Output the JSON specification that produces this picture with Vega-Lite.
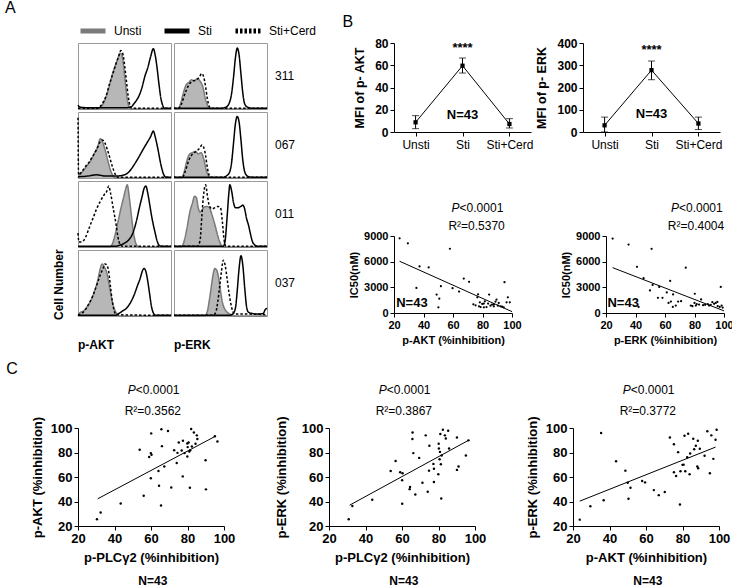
{
"$schema": "https://vega.github.io/schema/vega-lite/v6.json",
"background": "white",
"padding": {"left": 5, "top": 0, "right": 0, "bottom": 1},
"config": {
  "font": "Liberation Sans",
  "view": {"stroke": null},
  "axis": {"grid": false, "domainColor": "black", "tickColor": "black", "labelColor": "black", "titleColor": "black", "labelFont": "Liberation Sans", "titleFont": "Liberation Sans", "labelFontWeight": "bold", "titleFontWeight": "bold", "tickSize": 4, "labelFontSize": 11, "titleFontSize": 11, "labelPadding": 2, "titlePadding": 4, "labelOverlap": false, "labelFlush": false},
  "title": {"font": "Liberation Sans", "fontSize": 16, "fontWeight": "normal", "anchor": "start", "color": "black"},
  "header": {"labelColor": "black", "labelFont": "Liberation Sans", "titleColor": "black", "titleFont": "Liberation Sans"},
  "legend": {"labelColor": "black", "labelFont": "Liberation Sans"},
  "text": {"font": "Liberation Sans", "color": "black"}
},
"datasets": {
  "hist": [
    {"s":"311","m":"p-AKT","c":"Unsti","x":0,"y":0},{"s":"311","m":"p-AKT","c":"Unsti","x":20,"y":0},{"s":"311","m":"p-AKT","c":"Unsti","x":25,"y":4},{"s":"311","m":"p-AKT","c":"Unsti","x":30,"y":18},{"s":"311","m":"p-AKT","c":"Unsti","x":34,"y":38},{"s":"311","m":"p-AKT","c":"Unsti","x":37,"y":55},{"s":"311","m":"p-AKT","c":"Unsti","x":40,"y":68},{"s":"311","m":"p-AKT","c":"Unsti","x":43,"y":80},{"s":"311","m":"p-AKT","c":"Unsti","x":45,"y":88},{"s":"311","m":"p-AKT","c":"Unsti","x":47,"y":86},{"s":"311","m":"p-AKT","c":"Unsti","x":49,"y":68},{"s":"311","m":"p-AKT","c":"Unsti","x":51,"y":40},{"s":"311","m":"p-AKT","c":"Unsti","x":53,"y":15},{"s":"311","m":"p-AKT","c":"Unsti","x":55,"y":3},{"s":"311","m":"p-AKT","c":"Unsti","x":57,"y":0},{"s":"311","m":"p-AKT","c":"Unsti","x":100,"y":0},
    {"s":"311","m":"p-AKT","c":"Sti+Cerd","x":0,"y":1},{"s":"311","m":"p-AKT","c":"Sti+Cerd","x":20,"y":1},{"s":"311","m":"p-AKT","c":"Sti+Cerd","x":25,"y":6},{"s":"311","m":"p-AKT","c":"Sti+Cerd","x":30,"y":20},{"s":"311","m":"p-AKT","c":"Sti+Cerd","x":34,"y":40},{"s":"311","m":"p-AKT","c":"Sti+Cerd","x":38,"y":58},{"s":"311","m":"p-AKT","c":"Sti+Cerd","x":41,"y":72},{"s":"311","m":"p-AKT","c":"Sti+Cerd","x":44,"y":84},{"s":"311","m":"p-AKT","c":"Sti+Cerd","x":46,"y":92},{"s":"311","m":"p-AKT","c":"Sti+Cerd","x":48,"y":88},{"s":"311","m":"p-AKT","c":"Sti+Cerd","x":50,"y":70},{"s":"311","m":"p-AKT","c":"Sti+Cerd","x":52,"y":45},{"s":"311","m":"p-AKT","c":"Sti+Cerd","x":54,"y":20},{"s":"311","m":"p-AKT","c":"Sti+Cerd","x":56,"y":5},{"s":"311","m":"p-AKT","c":"Sti+Cerd","x":58,"y":1},{"s":"311","m":"p-AKT","c":"Sti+Cerd","x":100,"y":1},
    {"s":"311","m":"p-AKT","c":"Sti","x":0,"y":6},{"s":"311","m":"p-AKT","c":"Sti","x":2,"y":3},{"s":"311","m":"p-AKT","c":"Sti","x":10,"y":2},{"s":"311","m":"p-AKT","c":"Sti","x":30,"y":2},{"s":"311","m":"p-AKT","c":"Sti","x":50,"y":2},{"s":"311","m":"p-AKT","c":"Sti","x":57,"y":3},{"s":"311","m":"p-AKT","c":"Sti","x":60,"y":8},{"s":"311","m":"p-AKT","c":"Sti","x":63,"y":14},{"s":"311","m":"p-AKT","c":"Sti","x":66,"y":22},{"s":"311","m":"p-AKT","c":"Sti","x":69,"y":35},{"s":"311","m":"p-AKT","c":"Sti","x":72,"y":52},{"s":"311","m":"p-AKT","c":"Sti","x":75,"y":65},{"s":"311","m":"p-AKT","c":"Sti","x":78,"y":82},{"s":"311","m":"p-AKT","c":"Sti","x":81,"y":95},{"s":"311","m":"p-AKT","c":"Sti","x":83,"y":85},{"s":"311","m":"p-AKT","c":"Sti","x":85,"y":65},{"s":"311","m":"p-AKT","c":"Sti","x":87,"y":40},{"s":"311","m":"p-AKT","c":"Sti","x":89,"y":18},{"s":"311","m":"p-AKT","c":"Sti","x":91,"y":6},{"s":"311","m":"p-AKT","c":"Sti","x":93,"y":1},{"s":"311","m":"p-AKT","c":"Sti","x":100,"y":1},

    {"s":"311","m":"p-ERK","c":"Unsti","x":0,"y":0},{"s":"311","m":"p-ERK","c":"Unsti","x":4,"y":0},{"s":"311","m":"p-ERK","c":"Unsti","x":7,"y":8},{"s":"311","m":"p-ERK","c":"Unsti","x":10,"y":25},{"s":"311","m":"p-ERK","c":"Unsti","x":13,"y":38},{"s":"311","m":"p-ERK","c":"Unsti","x":16,"y":42},{"s":"311","m":"p-ERK","c":"Unsti","x":19,"y":46},{"s":"311","m":"p-ERK","c":"Unsti","x":22,"y":44},{"s":"311","m":"p-ERK","c":"Unsti","x":25,"y":48},{"s":"311","m":"p-ERK","c":"Unsti","x":28,"y":44},{"s":"311","m":"p-ERK","c":"Unsti","x":31,"y":35},{"s":"311","m":"p-ERK","c":"Unsti","x":34,"y":15},{"s":"311","m":"p-ERK","c":"Unsti","x":37,"y":3},{"s":"311","m":"p-ERK","c":"Unsti","x":39,"y":0},{"s":"311","m":"p-ERK","c":"Unsti","x":100,"y":0},
    {"s":"311","m":"p-ERK","c":"Sti+Cerd","x":0,"y":1},{"s":"311","m":"p-ERK","c":"Sti+Cerd","x":5,"y":1},{"s":"311","m":"p-ERK","c":"Sti+Cerd","x":8,"y":8},{"s":"311","m":"p-ERK","c":"Sti+Cerd","x":12,"y":25},{"s":"311","m":"p-ERK","c":"Sti+Cerd","x":16,"y":38},{"s":"311","m":"p-ERK","c":"Sti+Cerd","x":20,"y":44},{"s":"311","m":"p-ERK","c":"Sti+Cerd","x":24,"y":46},{"s":"311","m":"p-ERK","c":"Sti+Cerd","x":27,"y":50},{"s":"311","m":"p-ERK","c":"Sti+Cerd","x":30,"y":56},{"s":"311","m":"p-ERK","c":"Sti+Cerd","x":32,"y":50},{"s":"311","m":"p-ERK","c":"Sti+Cerd","x":34,"y":35},{"s":"311","m":"p-ERK","c":"Sti+Cerd","x":36,"y":15},{"s":"311","m":"p-ERK","c":"Sti+Cerd","x":38,"y":4},{"s":"311","m":"p-ERK","c":"Sti+Cerd","x":40,"y":1},{"s":"311","m":"p-ERK","c":"Sti+Cerd","x":100,"y":1},
    {"s":"311","m":"p-ERK","c":"Sti","x":0,"y":1},{"s":"311","m":"p-ERK","c":"Sti","x":50,"y":1},{"s":"311","m":"p-ERK","c":"Sti","x":56,"y":3},{"s":"311","m":"p-ERK","c":"Sti","x":59,"y":8},{"s":"311","m":"p-ERK","c":"Sti","x":62,"y":25},{"s":"311","m":"p-ERK","c":"Sti","x":64,"y":50},{"s":"311","m":"p-ERK","c":"Sti","x":66,"y":80},{"s":"311","m":"p-ERK","c":"Sti","x":68,"y":96},{"s":"311","m":"p-ERK","c":"Sti","x":70,"y":85},{"s":"311","m":"p-ERK","c":"Sti","x":72,"y":55},{"s":"311","m":"p-ERK","c":"Sti","x":74,"y":25},{"s":"311","m":"p-ERK","c":"Sti","x":76,"y":8},{"s":"311","m":"p-ERK","c":"Sti","x":79,"y":3},{"s":"311","m":"p-ERK","c":"Sti","x":85,"y":1},{"s":"311","m":"p-ERK","c":"Sti","x":100,"y":1},

    {"s":"067","m":"p-AKT","c":"Unsti","x":0,"y":0},{"s":"067","m":"p-AKT","c":"Unsti","x":2,"y":5},{"s":"067","m":"p-AKT","c":"Unsti","x":6,"y":12},{"s":"067","m":"p-AKT","c":"Unsti","x":10,"y":20},{"s":"067","m":"p-AKT","c":"Unsti","x":14,"y":28},{"s":"067","m":"p-AKT","c":"Unsti","x":18,"y":40},{"s":"067","m":"p-AKT","c":"Unsti","x":21,"y":48},{"s":"067","m":"p-AKT","c":"Unsti","x":24,"y":62},{"s":"067","m":"p-AKT","c":"Unsti","x":26,"y":58},{"s":"067","m":"p-AKT","c":"Unsti","x":29,"y":45},{"s":"067","m":"p-AKT","c":"Unsti","x":32,"y":28},{"s":"067","m":"p-AKT","c":"Unsti","x":35,"y":12},{"s":"067","m":"p-AKT","c":"Unsti","x":38,"y":3},{"s":"067","m":"p-AKT","c":"Unsti","x":40,"y":0},{"s":"067","m":"p-AKT","c":"Unsti","x":100,"y":0},
    {"s":"067","m":"p-AKT","c":"Sti+Cerd","x":0,"y":95},{"s":"067","m":"p-AKT","c":"Sti+Cerd","x":0.6,"y":5},{"s":"067","m":"p-AKT","c":"Sti+Cerd","x":4,"y":10},{"s":"067","m":"p-AKT","c":"Sti+Cerd","x":8,"y":18},{"s":"067","m":"p-AKT","c":"Sti+Cerd","x":12,"y":25},{"s":"067","m":"p-AKT","c":"Sti+Cerd","x":16,"y":35},{"s":"067","m":"p-AKT","c":"Sti+Cerd","x":20,"y":45},{"s":"067","m":"p-AKT","c":"Sti+Cerd","x":23,"y":55},{"s":"067","m":"p-AKT","c":"Sti+Cerd","x":26,"y":60},{"s":"067","m":"p-AKT","c":"Sti+Cerd","x":29,"y":55},{"s":"067","m":"p-AKT","c":"Sti+Cerd","x":33,"y":38},{"s":"067","m":"p-AKT","c":"Sti+Cerd","x":37,"y":18},{"s":"067","m":"p-AKT","c":"Sti+Cerd","x":40,"y":6},{"s":"067","m":"p-AKT","c":"Sti+Cerd","x":43,"y":1},{"s":"067","m":"p-AKT","c":"Sti+Cerd","x":100,"y":1},
    {"s":"067","m":"p-AKT","c":"Sti","x":0,"y":2},{"s":"067","m":"p-AKT","c":"Sti","x":10,"y":3},{"s":"067","m":"p-AKT","c":"Sti","x":20,"y":5},{"s":"067","m":"p-AKT","c":"Sti","x":30,"y":3},{"s":"067","m":"p-AKT","c":"Sti","x":40,"y":3},{"s":"067","m":"p-AKT","c":"Sti","x":50,"y":5},{"s":"067","m":"p-AKT","c":"Sti","x":55,"y":10},{"s":"067","m":"p-AKT","c":"Sti","x":60,"y":20},{"s":"067","m":"p-AKT","c":"Sti","x":65,"y":32},{"s":"067","m":"p-AKT","c":"Sti","x":70,"y":45},{"s":"067","m":"p-AKT","c":"Sti","x":74,"y":55},{"s":"067","m":"p-AKT","c":"Sti","x":78,"y":65},{"s":"067","m":"p-AKT","c":"Sti","x":81,"y":74},{"s":"067","m":"p-AKT","c":"Sti","x":83,"y":65},{"s":"067","m":"p-AKT","c":"Sti","x":86,"y":45},{"s":"067","m":"p-AKT","c":"Sti","x":89,"y":22},{"s":"067","m":"p-AKT","c":"Sti","x":92,"y":6},{"s":"067","m":"p-AKT","c":"Sti","x":95,"y":1},{"s":"067","m":"p-AKT","c":"Sti","x":100,"y":1},

    {"s":"067","m":"p-ERK","c":"Unsti","x":0,"y":0},{"s":"067","m":"p-ERK","c":"Unsti","x":8,"y":0},{"s":"067","m":"p-ERK","c":"Unsti","x":11,"y":10},{"s":"067","m":"p-ERK","c":"Unsti","x":14,"y":28},{"s":"067","m":"p-ERK","c":"Unsti","x":17,"y":38},{"s":"067","m":"p-ERK","c":"Unsti","x":20,"y":40},{"s":"067","m":"p-ERK","c":"Unsti","x":23,"y":42},{"s":"067","m":"p-ERK","c":"Unsti","x":26,"y":38},{"s":"067","m":"p-ERK","c":"Unsti","x":29,"y":40},{"s":"067","m":"p-ERK","c":"Unsti","x":32,"y":30},{"s":"067","m":"p-ERK","c":"Unsti","x":35,"y":10},{"s":"067","m":"p-ERK","c":"Unsti","x":38,"y":2},{"s":"067","m":"p-ERK","c":"Unsti","x":40,"y":0},{"s":"067","m":"p-ERK","c":"Unsti","x":100,"y":0},
    {"s":"067","m":"p-ERK","c":"Sti+Cerd","x":0,"y":1},{"s":"067","m":"p-ERK","c":"Sti+Cerd","x":9,"y":1},{"s":"067","m":"p-ERK","c":"Sti+Cerd","x":12,"y":10},{"s":"067","m":"p-ERK","c":"Sti+Cerd","x":16,"y":28},{"s":"067","m":"p-ERK","c":"Sti+Cerd","x":20,"y":38},{"s":"067","m":"p-ERK","c":"Sti+Cerd","x":24,"y":42},{"s":"067","m":"p-ERK","c":"Sti+Cerd","x":28,"y":48},{"s":"067","m":"p-ERK","c":"Sti+Cerd","x":30,"y":52},{"s":"067","m":"p-ERK","c":"Sti+Cerd","x":32,"y":48},{"s":"067","m":"p-ERK","c":"Sti+Cerd","x":34,"y":35},{"s":"067","m":"p-ERK","c":"Sti+Cerd","x":36,"y":15},{"s":"067","m":"p-ERK","c":"Sti+Cerd","x":38,"y":4},{"s":"067","m":"p-ERK","c":"Sti+Cerd","x":41,"y":1},{"s":"067","m":"p-ERK","c":"Sti+Cerd","x":100,"y":1},
    {"s":"067","m":"p-ERK","c":"Sti","x":0,"y":1},{"s":"067","m":"p-ERK","c":"Sti","x":52,"y":1},{"s":"067","m":"p-ERK","c":"Sti","x":57,"y":4},{"s":"067","m":"p-ERK","c":"Sti","x":60,"y":10},{"s":"067","m":"p-ERK","c":"Sti","x":62,"y":25},{"s":"067","m":"p-ERK","c":"Sti","x":64,"y":55},{"s":"067","m":"p-ERK","c":"Sti","x":66,"y":85},{"s":"067","m":"p-ERK","c":"Sti","x":68,"y":97},{"s":"067","m":"p-ERK","c":"Sti","x":70,"y":88},{"s":"067","m":"p-ERK","c":"Sti","x":72,"y":60},{"s":"067","m":"p-ERK","c":"Sti","x":74,"y":28},{"s":"067","m":"p-ERK","c":"Sti","x":76,"y":10},{"s":"067","m":"p-ERK","c":"Sti","x":79,"y":3},{"s":"067","m":"p-ERK","c":"Sti","x":85,"y":1},{"s":"067","m":"p-ERK","c":"Sti","x":100,"y":1},

    {"s":"011","m":"p-AKT","c":"Unsti","x":0,"y":0},{"s":"011","m":"p-AKT","c":"Unsti","x":34,"y":0},{"s":"011","m":"p-AKT","c":"Unsti","x":37,"y":5},{"s":"011","m":"p-AKT","c":"Unsti","x":40,"y":20},{"s":"011","m":"p-AKT","c":"Unsti","x":43,"y":40},{"s":"011","m":"p-AKT","c":"Unsti","x":46,"y":60},{"s":"011","m":"p-AKT","c":"Unsti","x":49,"y":78},{"s":"011","m":"p-AKT","c":"Unsti","x":51,"y":90},{"s":"011","m":"p-AKT","c":"Unsti","x":53,"y":98},{"s":"011","m":"p-AKT","c":"Unsti","x":55,"y":80},{"s":"011","m":"p-AKT","c":"Unsti","x":57,"y":55},{"s":"011","m":"p-AKT","c":"Unsti","x":59,"y":30},{"s":"011","m":"p-AKT","c":"Unsti","x":61,"y":12},{"s":"011","m":"p-AKT","c":"Unsti","x":63,"y":3},{"s":"011","m":"p-AKT","c":"Unsti","x":66,"y":0},{"s":"011","m":"p-AKT","c":"Unsti","x":100,"y":0},
    {"s":"011","m":"p-AKT","c":"Sti+Cerd","x":0,"y":22},{"s":"011","m":"p-AKT","c":"Sti+Cerd","x":1,"y":8},{"s":"011","m":"p-AKT","c":"Sti+Cerd","x":4,"y":8},{"s":"011","m":"p-AKT","c":"Sti+Cerd","x":8,"y":15},{"s":"011","m":"p-AKT","c":"Sti+Cerd","x":12,"y":30},{"s":"011","m":"p-AKT","c":"Sti+Cerd","x":16,"y":45},{"s":"011","m":"p-AKT","c":"Sti+Cerd","x":20,"y":60},{"s":"011","m":"p-AKT","c":"Sti+Cerd","x":24,"y":72},{"s":"011","m":"p-AKT","c":"Sti+Cerd","x":28,"y":82},{"s":"011","m":"p-AKT","c":"Sti+Cerd","x":31,"y":88},{"s":"011","m":"p-AKT","c":"Sti+Cerd","x":33,"y":96},{"s":"011","m":"p-AKT","c":"Sti+Cerd","x":35,"y":85},{"s":"011","m":"p-AKT","c":"Sti+Cerd","x":38,"y":60},{"s":"011","m":"p-AKT","c":"Sti+Cerd","x":41,"y":35},{"s":"011","m":"p-AKT","c":"Sti+Cerd","x":43,"y":15},{"s":"011","m":"p-AKT","c":"Sti+Cerd","x":45,"y":5},{"s":"011","m":"p-AKT","c":"Sti+Cerd","x":48,"y":1},{"s":"011","m":"p-AKT","c":"Sti+Cerd","x":100,"y":1},
    {"s":"011","m":"p-AKT","c":"Sti","x":0,"y":1},{"s":"011","m":"p-AKT","c":"Sti","x":40,"y":1},{"s":"011","m":"p-AKT","c":"Sti","x":45,"y":3},{"s":"011","m":"p-AKT","c":"Sti","x":50,"y":6},{"s":"011","m":"p-AKT","c":"Sti","x":55,"y":12},{"s":"011","m":"p-AKT","c":"Sti","x":59,"y":22},{"s":"011","m":"p-AKT","c":"Sti","x":63,"y":42},{"s":"011","m":"p-AKT","c":"Sti","x":66,"y":62},{"s":"011","m":"p-AKT","c":"Sti","x":69,"y":80},{"s":"011","m":"p-AKT","c":"Sti","x":71,"y":92},{"s":"011","m":"p-AKT","c":"Sti","x":73,"y":96},{"s":"011","m":"p-AKT","c":"Sti","x":75,"y":85},{"s":"011","m":"p-AKT","c":"Sti","x":77,"y":68},{"s":"011","m":"p-AKT","c":"Sti","x":79,"y":50},{"s":"011","m":"p-AKT","c":"Sti","x":81,"y":35},{"s":"011","m":"p-AKT","c":"Sti","x":83,"y":22},{"s":"011","m":"p-AKT","c":"Sti","x":85,"y":10},{"s":"011","m":"p-AKT","c":"Sti","x":87,"y":3},{"s":"011","m":"p-AKT","c":"Sti","x":90,"y":1},{"s":"011","m":"p-AKT","c":"Sti","x":100,"y":1},

    {"s":"011","m":"p-ERK","c":"Unsti","x":0,"y":0},{"s":"011","m":"p-ERK","c":"Unsti","x":8,"y":0},{"s":"011","m":"p-ERK","c":"Unsti","x":11,"y":10},{"s":"011","m":"p-ERK","c":"Unsti","x":14,"y":30},{"s":"011","m":"p-ERK","c":"Unsti","x":17,"y":55},{"s":"011","m":"p-ERK","c":"Unsti","x":20,"y":70},{"s":"011","m":"p-ERK","c":"Unsti","x":22,"y":80},{"s":"011","m":"p-ERK","c":"Unsti","x":24,"y":78},{"s":"011","m":"p-ERK","c":"Unsti","x":26,"y":62},{"s":"011","m":"p-ERK","c":"Unsti","x":28,"y":55},{"s":"011","m":"p-ERK","c":"Unsti","x":30,"y":58},{"s":"011","m":"p-ERK","c":"Unsti","x":32,"y":62},{"s":"011","m":"p-ERK","c":"Unsti","x":35,"y":64},{"s":"011","m":"p-ERK","c":"Unsti","x":38,"y":62},{"s":"011","m":"p-ERK","c":"Unsti","x":41,"y":50},{"s":"011","m":"p-ERK","c":"Unsti","x":44,"y":35},{"s":"011","m":"p-ERK","c":"Unsti","x":47,"y":18},{"s":"011","m":"p-ERK","c":"Unsti","x":50,"y":5},{"s":"011","m":"p-ERK","c":"Unsti","x":53,"y":0},{"s":"011","m":"p-ERK","c":"Unsti","x":100,"y":0},
    {"s":"011","m":"p-ERK","c":"Sti+Cerd","x":0,"y":1},{"s":"011","m":"p-ERK","c":"Sti+Cerd","x":25,"y":1},{"s":"011","m":"p-ERK","c":"Sti+Cerd","x":28,"y":10},{"s":"011","m":"p-ERK","c":"Sti+Cerd","x":30,"y":50},{"s":"011","m":"p-ERK","c":"Sti+Cerd","x":32,"y":85},{"s":"011","m":"p-ERK","c":"Sti+Cerd","x":34,"y":98},{"s":"011","m":"p-ERK","c":"Sti+Cerd","x":36,"y":80},{"s":"011","m":"p-ERK","c":"Sti+Cerd","x":38,"y":65},{"s":"011","m":"p-ERK","c":"Sti+Cerd","x":41,"y":60},{"s":"011","m":"p-ERK","c":"Sti+Cerd","x":44,"y":62},{"s":"011","m":"p-ERK","c":"Sti+Cerd","x":47,"y":64},{"s":"011","m":"p-ERK","c":"Sti+Cerd","x":50,"y":62},{"s":"011","m":"p-ERK","c":"Sti+Cerd","x":52,"y":40},{"s":"011","m":"p-ERK","c":"Sti+Cerd","x":54,"y":10},{"s":"011","m":"p-ERK","c":"Sti+Cerd","x":56,"y":1},{"s":"011","m":"p-ERK","c":"Sti+Cerd","x":100,"y":1},
    {"s":"011","m":"p-ERK","c":"Sti","x":0,"y":1},{"s":"011","m":"p-ERK","c":"Sti","x":53,"y":1},{"s":"011","m":"p-ERK","c":"Sti","x":55,"y":10},{"s":"011","m":"p-ERK","c":"Sti","x":57,"y":45},{"s":"011","m":"p-ERK","c":"Sti","x":59,"y":85},{"s":"011","m":"p-ERK","c":"Sti","x":60,"y":98},{"s":"011","m":"p-ERK","c":"Sti","x":62,"y":88},{"s":"011","m":"p-ERK","c":"Sti","x":64,"y":70},{"s":"011","m":"p-ERK","c":"Sti","x":66,"y":62},{"s":"011","m":"p-ERK","c":"Sti","x":69,"y":62},{"s":"011","m":"p-ERK","c":"Sti","x":72,"y":64},{"s":"011","m":"p-ERK","c":"Sti","x":74,"y":66},{"s":"011","m":"p-ERK","c":"Sti","x":76,"y":60},{"s":"011","m":"p-ERK","c":"Sti","x":78,"y":45},{"s":"011","m":"p-ERK","c":"Sti","x":80,"y":35},{"s":"011","m":"p-ERK","c":"Sti","x":82,"y":22},{"s":"011","m":"p-ERK","c":"Sti","x":84,"y":10},{"s":"011","m":"p-ERK","c":"Sti","x":87,"y":3},{"s":"011","m":"p-ERK","c":"Sti","x":90,"y":1},{"s":"011","m":"p-ERK","c":"Sti","x":100,"y":1},

    {"s":"037","m":"p-AKT","c":"Unsti","x":0,"y":0},{"s":"037","m":"p-AKT","c":"Unsti","x":2,"y":5},{"s":"037","m":"p-AKT","c":"Unsti","x":6,"y":8},{"s":"037","m":"p-AKT","c":"Unsti","x":10,"y":15},{"s":"037","m":"p-AKT","c":"Unsti","x":14,"y":25},{"s":"037","m":"p-AKT","c":"Unsti","x":18,"y":40},{"s":"037","m":"p-AKT","c":"Unsti","x":21,"y":55},{"s":"037","m":"p-AKT","c":"Unsti","x":24,"y":75},{"s":"037","m":"p-AKT","c":"Unsti","x":26,"y":82},{"s":"037","m":"p-AKT","c":"Unsti","x":28,"y":78},{"s":"037","m":"p-AKT","c":"Unsti","x":31,"y":68},{"s":"037","m":"p-AKT","c":"Unsti","x":34,"y":45},{"s":"037","m":"p-AKT","c":"Unsti","x":37,"y":22},{"s":"037","m":"p-AKT","c":"Unsti","x":40,"y":8},{"s":"037","m":"p-AKT","c":"Unsti","x":43,"y":2},{"s":"037","m":"p-AKT","c":"Unsti","x":45,"y":0},{"s":"037","m":"p-AKT","c":"Unsti","x":100,"y":0},
    {"s":"037","m":"p-AKT","c":"Sti+Cerd","x":0,"y":2},{"s":"037","m":"p-AKT","c":"Sti+Cerd","x":4,"y":4},{"s":"037","m":"p-AKT","c":"Sti+Cerd","x":8,"y":10},{"s":"037","m":"p-AKT","c":"Sti+Cerd","x":12,"y":20},{"s":"037","m":"p-AKT","c":"Sti+Cerd","x":16,"y":32},{"s":"037","m":"p-AKT","c":"Sti+Cerd","x":20,"y":48},{"s":"037","m":"p-AKT","c":"Sti+Cerd","x":24,"y":65},{"s":"037","m":"p-AKT","c":"Sti+Cerd","x":27,"y":75},{"s":"037","m":"p-AKT","c":"Sti+Cerd","x":29,"y":82},{"s":"037","m":"p-AKT","c":"Sti+Cerd","x":31,"y":80},{"s":"037","m":"p-AKT","c":"Sti+Cerd","x":33,"y":70},{"s":"037","m":"p-AKT","c":"Sti+Cerd","x":35,"y":45},{"s":"037","m":"p-AKT","c":"Sti+Cerd","x":37,"y":22},{"s":"037","m":"p-AKT","c":"Sti+Cerd","x":39,"y":8},{"s":"037","m":"p-AKT","c":"Sti+Cerd","x":41,"y":2},{"s":"037","m":"p-AKT","c":"Sti+Cerd","x":100,"y":1},
    {"s":"037","m":"p-AKT","c":"Sti","x":0,"y":1},{"s":"037","m":"p-AKT","c":"Sti","x":40,"y":1},{"s":"037","m":"p-AKT","c":"Sti","x":44,"y":4},{"s":"037","m":"p-AKT","c":"Sti","x":48,"y":8},{"s":"037","m":"p-AKT","c":"Sti","x":52,"y":12},{"s":"037","m":"p-AKT","c":"Sti","x":56,"y":20},{"s":"037","m":"p-AKT","c":"Sti","x":60,"y":32},{"s":"037","m":"p-AKT","c":"Sti","x":64,"y":48},{"s":"037","m":"p-AKT","c":"Sti","x":67,"y":60},{"s":"037","m":"p-AKT","c":"Sti","x":69,"y":70},{"s":"037","m":"p-AKT","c":"Sti","x":71,"y":75},{"s":"037","m":"p-AKT","c":"Sti","x":73,"y":70},{"s":"037","m":"p-AKT","c":"Sti","x":75,"y":55},{"s":"037","m":"p-AKT","c":"Sti","x":77,"y":35},{"s":"037","m":"p-AKT","c":"Sti","x":79,"y":15},{"s":"037","m":"p-AKT","c":"Sti","x":81,"y":5},{"s":"037","m":"p-AKT","c":"Sti","x":84,"y":1},{"s":"037","m":"p-AKT","c":"Sti","x":100,"y":1},

    {"s":"037","m":"p-ERK","c":"Unsti","x":0,"y":0},{"s":"037","m":"p-ERK","c":"Unsti","x":33,"y":0},{"s":"037","m":"p-ERK","c":"Unsti","x":36,"y":8},{"s":"037","m":"p-ERK","c":"Unsti","x":38,"y":25},{"s":"037","m":"p-ERK","c":"Unsti","x":40,"y":45},{"s":"037","m":"p-ERK","c":"Unsti","x":42,"y":65},{"s":"037","m":"p-ERK","c":"Unsti","x":44,"y":75},{"s":"037","m":"p-ERK","c":"Unsti","x":46,"y":72},{"s":"037","m":"p-ERK","c":"Unsti","x":48,"y":60},{"s":"037","m":"p-ERK","c":"Unsti","x":50,"y":40},{"s":"037","m":"p-ERK","c":"Unsti","x":52,"y":22},{"s":"037","m":"p-ERK","c":"Unsti","x":55,"y":10},{"s":"037","m":"p-ERK","c":"Unsti","x":58,"y":5},{"s":"037","m":"p-ERK","c":"Unsti","x":62,"y":2},{"s":"037","m":"p-ERK","c":"Unsti","x":66,"y":0},{"s":"037","m":"p-ERK","c":"Unsti","x":100,"y":0},
    {"s":"037","m":"p-ERK","c":"Sti+Cerd","x":0,"y":1},{"s":"037","m":"p-ERK","c":"Sti+Cerd","x":42,"y":1},{"s":"037","m":"p-ERK","c":"Sti+Cerd","x":45,"y":6},{"s":"037","m":"p-ERK","c":"Sti+Cerd","x":47,"y":22},{"s":"037","m":"p-ERK","c":"Sti+Cerd","x":49,"y":45},{"s":"037","m":"p-ERK","c":"Sti+Cerd","x":51,"y":70},{"s":"037","m":"p-ERK","c":"Sti+Cerd","x":53,"y":88},{"s":"037","m":"p-ERK","c":"Sti+Cerd","x":55,"y":80},{"s":"037","m":"p-ERK","c":"Sti+Cerd","x":57,"y":60},{"s":"037","m":"p-ERK","c":"Sti+Cerd","x":59,"y":38},{"s":"037","m":"p-ERK","c":"Sti+Cerd","x":61,"y":20},{"s":"037","m":"p-ERK","c":"Sti+Cerd","x":63,"y":8},{"s":"037","m":"p-ERK","c":"Sti+Cerd","x":65,"y":3},{"s":"037","m":"p-ERK","c":"Sti+Cerd","x":80,"y":3},{"s":"037","m":"p-ERK","c":"Sti+Cerd","x":100,"y":2},
    {"s":"037","m":"p-ERK","c":"Sti","x":0,"y":1},{"s":"037","m":"p-ERK","c":"Sti","x":60,"y":1},{"s":"037","m":"p-ERK","c":"Sti","x":63,"y":3},{"s":"037","m":"p-ERK","c":"Sti","x":66,"y":12},{"s":"037","m":"p-ERK","c":"Sti","x":68,"y":40},{"s":"037","m":"p-ERK","c":"Sti","x":70,"y":75},{"s":"037","m":"p-ERK","c":"Sti","x":72,"y":95},{"s":"037","m":"p-ERK","c":"Sti","x":74,"y":80},{"s":"037","m":"p-ERK","c":"Sti","x":76,"y":45},{"s":"037","m":"p-ERK","c":"Sti","x":78,"y":15},{"s":"037","m":"p-ERK","c":"Sti","x":80,"y":6},{"s":"037","m":"p-ERK","c":"Sti","x":84,"y":4},{"s":"037","m":"p-ERK","c":"Sti","x":90,"y":3},{"s":"037","m":"p-ERK","c":"Sti","x":96,"y":4},{"s":"037","m":"p-ERK","c":"Sti","x":98,"y":10},{"s":"037","m":"p-ERK","c":"Sti","x":100,"y":12}
  ],
  "b1": [
    {"x":23.8,"y":8730},{"x":29.4,"y":8140},{"x":57.9,"y":7510},{"x":37.3,"y":5440},{"x":43.5,"y":5320},{"x":35.2,"y":2930},{"x":51.8,"y":3130},{"x":59.7,"y":2900},{"x":64.1,"y":2500},{"x":67.3,"y":4030},{"x":70.9,"y":3640},{"x":48.9,"y":2150},{"x":50.7,"y":1680},{"x":50.1,"y":665},{"x":76.5,"y":1840},{"x":77,"y":2190},{"x":73.8,"y":1020},{"x":75.3,"y":900},{"x":78.2,"y":1250},{"x":78.7,"y":700},{"x":79.8,"y":1060},{"x":80.9,"y":665},{"x":81.6,"y":1370},{"x":82.7,"y":700},{"x":83.8,"y":1100},{"x":84.5,"y":2150},{"x":85.4,"y":860},{"x":86.5,"y":980},{"x":87.7,"y":1020},{"x":88.8,"y":1330},{"x":89.5,"y":1565},{"x":90.4,"y":860},{"x":92.2,"y":780},{"x":93.3,"y":740},{"x":94.9,"y":3600},{"x":96.3,"y":1250},{"x":97.2,"y":1840},{"x":98.5,"y":1250},{"x":94.4,"y":665},{"x":91,"y":1170},{"x":80.9,"y":1100},{"x":87.7,"y":780},{"x":77.6,"y":780}
  ],
  "b2": [
    {"x":24.5,"y":8700},{"x":35.3,"y":8000},{"x":50.9,"y":7500},{"x":41,"y":5400},{"x":74.1,"y":5300},{"x":45.5,"y":4070},{"x":51.6,"y":3280},{"x":56.1,"y":3040},{"x":63.5,"y":3750},{"x":49.8,"y":2640},{"x":61.2,"y":2410},{"x":65.5,"y":2170},{"x":55.2,"y":1780},{"x":62.4,"y":1180},{"x":64,"y":1340},{"x":65.3,"y":710},{"x":67.3,"y":870},{"x":68.9,"y":1340},{"x":70.9,"y":1380},{"x":42.1,"y":710},{"x":80.2,"y":2250},{"x":80,"y":1180},{"x":78.6,"y":790},{"x":81.5,"y":1030},{"x":83.1,"y":990},{"x":84.5,"y":1580},{"x":85.8,"y":910},{"x":87.2,"y":950},{"x":89,"y":1030},{"x":89.9,"y":870},{"x":92.1,"y":1260},{"x":93.3,"y":1070},{"x":94.4,"y":1180},{"x":95.7,"y":790},{"x":97.1,"y":710},{"x":97.8,"y":3040},{"x":99.1,"y":630},{"x":98.4,"y":870},{"x":95.5,"y":1300},{"x":91,"y":950},{"x":80.9,"y":870},{"x":77.5,"y":870},{"x":58.3,"y":1780}
  ],
  "c1": [
    {"x":30.4,"y":25.5},{"x":32.4,"y":31},{"x":43.4,"y":38.4},{"x":56,"y":44.7},{"x":53.8,"y":82.2},{"x":59,"y":76.4},{"x":59.9,"y":79.5},{"x":60.3,"y":78.1},{"x":60.1,"y":95.6},{"x":59.9,"y":58.9},{"x":64.1,"y":64.9},{"x":64.4,"y":52.9},{"x":65.5,"y":36.7},{"x":65.7,"y":98.9},{"x":66,"y":85.2},{"x":67.3,"y":68.5},{"x":69.3,"y":97.5},{"x":71.1,"y":51.5},{"x":72.7,"y":81.9},{"x":74.1,"y":71.5},{"x":74.5,"y":79.7},{"x":75.2,"y":88.2},{"x":76.8,"y":81.6},{"x":77.5,"y":89.6},{"x":77.4,"y":60.5},{"x":79.9,"y":76.7},{"x":80.1,"y":84.4},{"x":79.9,"y":87.4},{"x":80.6,"y":88.2},{"x":81,"y":80.8},{"x":81.3,"y":51.2},{"x":81.5,"y":81.9},{"x":82,"y":99.2},{"x":82.4,"y":84.9},{"x":83.5,"y":96.4},{"x":84.4,"y":87.1},{"x":85.1,"y":94},{"x":85.4,"y":91},{"x":89.9,"y":73.7},{"x":90.1,"y":49.9},{"x":95,"y":93.2},{"x":96.4,"y":89},{"x":78.4,"y":79.5}
  ],
  "c2": [
    {"x":30.8,"y":25.5},{"x":32.8,"y":36.4},{"x":43.7,"y":41.4},{"x":60.1,"y":38.1},{"x":53.8,"y":64.9},{"x":56.5,"y":73.1},{"x":59,"y":63.8},{"x":60.3,"y":63},{"x":60.1,"y":57.3},{"x":64.2,"y":50.1},{"x":64.4,"y":51.8},{"x":65.8,"y":96.4},{"x":65.7,"y":91},{"x":66.2,"y":79.5},{"x":67.3,"y":45.7},{"x":69.4,"y":75.6},{"x":71.2,"y":55.3},{"x":73,"y":94},{"x":74.1,"y":47.9},{"x":75,"y":85.5},{"x":74.8,"y":65.2},{"x":77.2,"y":70.7},{"x":77.5,"y":66.8},{"x":77.5,"y":55.9},{"x":79.9,"y":62.2},{"x":80.1,"y":87.1},{"x":80.2,"y":83.3},{"x":80.8,"y":80.5},{"x":81,"y":95.1},{"x":81.5,"y":42.5},{"x":81.3,"y":70.4},{"x":81.7,"y":77.5},{"x":82.4,"y":98.6},{"x":83.5,"y":94},{"x":84,"y":91.5},{"x":85.3,"y":97.8},{"x":85.8,"y":83.3},{"x":90.1,"y":92.3},{"x":90.1,"y":65.8},{"x":91,"y":68.5},{"x":95,"y":77.5},{"x":96.4,"y":89.9},{"x":80.6,"y":74.5}
  ],
  "c3": [
    {"x":23.7,"y":25.2},{"x":29.5,"y":36.2},{"x":35.4,"y":95.9},{"x":36.8,"y":41.1},{"x":43.6,"y":72.9},{"x":48.7,"y":65.2},{"x":50,"y":55.3},{"x":50.4,"y":42.2},{"x":51.5,"y":51.2},{"x":57.9,"y":56.7},{"x":59.5,"y":55.6},{"x":64.3,"y":49.3},{"x":67,"y":45.2},{"x":70.3,"y":47.7},{"x":73.1,"y":92.3},{"x":75.3,"y":86.8},{"x":75.3,"y":63.8},{"x":76.5,"y":60.8},{"x":77.6,"y":80.3},{"x":78.9,"y":64.7},{"x":78.6,"y":37.5},{"x":80,"y":69.9},{"x":80.6,"y":70.1},{"x":81.1,"y":93.7},{"x":81.5,"y":64.7},{"x":83.1,"y":95.3},{"x":83.9,"y":62.2},{"x":84.2,"y":79.2},{"x":85.9,"y":91.2},{"x":86.4,"y":82.7},{"x":87.3,"y":85.5},{"x":88.4,"y":89.6},{"x":88.1,"y":68.5},{"x":88.6,"y":67.1},{"x":89.5,"y":83},{"x":92.1,"y":77.3},{"x":93.6,"y":97.3},{"x":95,"y":63},{"x":95.8,"y":94},{"x":96.9,"y":74.8},{"x":98.1,"y":90.4},{"x":98.7,"y":98.6},{"x":82.6,"y":76.2}
  ]
},
"align": "none",
"center": false,
"spacing": 10,
"resolve": {"scale": {"color": "independent", "strokeDash": "independent"}, "legend": {"color": "independent", "strokeDash": "independent"}},
"vconcat": [
  {
    "align": "none",
    "center": false,
    "spacing": 25,
    "resolve": {"scale": {"color": "independent", "strokeDash": "independent"}, "legend": {"color": "independent", "strokeDash": "independent"}},
    "hconcat": [
      {
        "title": {"text": "A", "offset": 0, "dx": -48},
        "data": {"name": "hist"},
        "bounds": "flush",
        "facet": {
          "row": {"field": "s", "type": "nominal", "title": "Cell Number", "sort": ["311","067","011","037"], "header": {"titleOrient": "left", "titleAnchor": "start", "titleFontSize": 12, "titleFontWeight": "bold", "titlePadding": 2, "labelOrient": "right", "labelAngle": 0, "labelFontSize": 12, "labelPadding": 8}},
          "column": {"field": "m", "type": "nominal", "sort": ["p-AKT","p-ERK"], "header": {"title": null, "labelOrient": "bottom", "labelAnchor": "start", "labelFontSize": 12, "labelFontWeight": "bold", "labelPadding": 24}}
        },
        "spacing": {"row": 3, "column": 3},
        "spec": {
          "width": 93, "height": 66,
          "view": {"stroke": "#9a9a9a"},
          "encoding": {
            "x": {"field": "x", "type": "quantitative", "scale": {"domain": [0,100]}, "axis": null},
            "y": {"field": "y", "type": "quantitative", "scale": {"domain": [0,104]}, "axis": null}
          },
          "layer": [
            {"transform": [{"filter": "datum.c === 'Unsti'"}], "mark": {"type": "area", "color": "#b7b7b7", "interpolate": "monotone"}},
            {"mark": {"type": "line", "interpolate": "monotone", "strokeWidth": 1.5},
             "encoding": {
               "color": {"field": "c", "type": "nominal", "scale": {"domain": ["Unsti","Sti","Sti+Cerd"], "range": ["#7a7a7a","#000000","#000000"]},
                 "legend": {"title": null, "orient": "top", "direction": "horizontal", "symbolType": "stroke", "symbolSize": 625, "symbolStrokeWidth": 5, "labelFontSize": 12, "labelOffset": 6, "columnPadding": 12, "offset": 1, "padding": 0,
                   "encode": {"symbols": {"update": {"stroke": {"signal": "datum.value === 'Unsti' ? '#bdbdbd' : 'black'"}, "strokeDash": {"signal": "datum.value === 'Sti+Cerd' ? [8,4] : [1,0]"}, "strokeWidth": {"value": 5}}}}}},
               "strokeDash": {"field": "c", "type": "nominal", "scale": {"domain": ["Unsti","Sti","Sti+Cerd"], "range": [[1,0],[1,0],[2.5,2]]}, "legend": null}
             }}
          ]
        }
      },
      {
        "title": {"text": "B", "offset": 7, "dx": -6},
        "spacing": 52,
        "vconcat": [
          {
            "spacing": 2,
            "hconcat": [
              {
                "width": 137, "height": 89,
                "data": {"values": [{"g":"Unsti","v":8.7,"lo":3,"hi":14.7},{"g":"Sti","v":59.6,"lo":53,"hi":66.5},{"g":"Sti+Cerd","v":7.2,"lo":3.6,"hi":12}]},
                "encoding": {"x": {"field": "g", "type": "nominal", "scale": {"type": "point", "padding": 0.46, "domain": ["Unsti","Sti","Sti+Cerd"]}, "axis": {"title": null, "labelAngle": 0, "labelFontWeight": "normal", "labelFontSize": 12, "labelPadding": 3}}},
                "layer": [
                  {"mark": {"type": "line", "color": "black", "strokeWidth": 1}, "encoding": {"y": {"field": "v", "type": "quantitative", "title": "MFI of p- AKT", "scale": {"domain": [0,80]}, "axis": {"values": [0,20,40,60,80], "tickCount": 10, "labelFontSize": 12, "titleFontSize": 12.5, "titlePadding": 8}}}},
                  {"mark": {"type": "errorbar", "ticks": {"size": 7, "color": "black"}, "rule": {"color": "black", "strokeWidth": 1}}, "encoding": {"y": {"field": "lo", "type": "quantitative", "title": "MFI of p- AKT"}, "y2": {"field": "hi"}}},
                  {"mark": {"type": "square", "size": 18, "color": "black", "opacity": 1}, "encoding": {"y": {"field": "v", "type": "quantitative", "title": "MFI of p- AKT"}}},
                  {"data": {"values": [{}]}, "mark": {"type": "text", "text": "****", "fontSize": 13, "fontWeight": "bold"}, "encoding": {"x": {"datum": "Sti"}, "y": {"datum": 75.5}}},
                  {"data": {"values": [{}]}, "mark": {"type": "text", "text": "N=43", "fontSize": 13, "fontWeight": "bold"}, "encoding": {"x": {"datum": "Sti"}, "y": {"datum": 15.6}}}
                ]
              },
              {
                "width": 137, "height": 89,
                "data": {"values": [{"g":"Unsti","v":30,"lo":0,"hi":67},{"g":"Sti","v":278,"lo":235,"hi":319},{"g":"Sti+Cerd","v":38,"lo":11,"hi":67}]},
                "encoding": {"x": {"field": "g", "type": "nominal", "scale": {"type": "point", "padding": 0.46, "domain": ["Unsti","Sti","Sti+Cerd"]}, "axis": {"title": null, "labelAngle": 0, "labelFontWeight": "normal", "labelFontSize": 12, "labelPadding": 3}}},
                "layer": [
                  {"mark": {"type": "line", "color": "black", "strokeWidth": 1}, "encoding": {"y": {"field": "v", "type": "quantitative", "title": "MFI of p- ERK", "scale": {"domain": [0,400]}, "axis": {"values": [0,100,200,300,400], "tickCount": 10, "labelFontSize": 12, "titleFontSize": 12.5, "titlePadding": 8}}}},
                  {"mark": {"type": "errorbar", "ticks": {"size": 7, "color": "black"}, "rule": {"color": "black", "strokeWidth": 1}}, "encoding": {"y": {"field": "lo", "type": "quantitative", "title": "MFI of p- ERK"}, "y2": {"field": "hi"}}},
                  {"mark": {"type": "square", "size": 18, "color": "black", "opacity": 1}, "encoding": {"y": {"field": "v", "type": "quantitative", "title": "MFI of p- ERK"}}},
                  {"data": {"values": [{}]}, "mark": {"type": "text", "text": "****", "fontSize": 13, "fontWeight": "bold"}, "encoding": {"x": {"datum": "Sti"}, "y": {"datum": 369}}},
                  {"data": {"values": [{}]}, "mark": {"type": "text", "text": "N=43", "fontSize": 13, "fontWeight": "bold"}, "encoding": {"x": {"datum": "Sti"}, "y": {"datum": 79}}}
                ]
              }
            ]
          },
          {
            "spacing": 38,
            "hconcat": [
              {
                "width": 118, "height": 77,
                "layer": [
                  {"data": {"name": "b1"}, "mark": {"type": "circle", "size": 5, "color": "black", "opacity": 1}, "encoding": {"x": {"field": "x", "type": "quantitative", "title": "p-AKT (%inhibition)", "scale": {"domain": [20,100]}, "axis": {"values": [20,40,60,80,100], "tickCount": 10}}, "y": {"field": "y", "type": "quantitative", "title": "IC50(nM)", "scale": {"domain": [0,9000]}, "axis": {"values": [0,3000,6000,9000], "tickCount": 10, "format": "d"}}}},
                  {"data": {"values": [{"x":23.8,"y":6050},{"x":100,"y":160}]}, "mark": {"type": "line", "color": "black", "strokeWidth": 1}, "encoding": {"x": {"field": "x", "type": "quantitative", "title": "p-AKT (%inhibition)"}, "y": {"field": "y", "type": "quantitative", "title": "IC50(nM)"}}},
                  {"data": {"values": [{}]}, "mark": {"type": "text", "text": "N=43", "fontSize": 13, "fontWeight": "bold", "align": "left"}, "encoding": {"x": {"datum": 21.5}, "y": {"datum": 1200}}},
                  {"data": {"values": [{}]}, "mark": {"type": "text", "text": "P", "fontSize": 12, "fontStyle": "italic", "align": "right", "dx": -17}, "encoding": {"x": {"datum": 76}, "y": {"datum": 12270}}},
                  {"data": {"values": [{}]}, "mark": {"type": "text", "text": "<0.0001", "fontSize": 12, "align": "left", "dx": -17}, "encoding": {"x": {"datum": 76}, "y": {"datum": 12270}}},
                  {"data": {"values": [{}]}, "mark": {"type": "text", "text": "R²=0.5370", "fontSize": 12}, "encoding": {"x": {"datum": 76}, "y": {"datum": 10170}}}
                ]
              },
              {
                "width": 118, "height": 77,
                "layer": [
                  {"data": {"name": "b2"}, "mark": {"type": "circle", "size": 5, "color": "black", "opacity": 1}, "encoding": {"x": {"field": "x", "type": "quantitative", "title": "p-ERK (%inhibition)", "scale": {"domain": [20,100]}, "axis": {"values": [20,40,60,80,100], "tickCount": 10}}, "y": {"field": "y", "type": "quantitative", "title": "IC50(nM)", "scale": {"domain": [0,9000]}, "axis": {"values": [0,3000,6000,9000], "tickCount": 10, "format": "d"}}}},
                  {"data": {"values": [{"x":24.5,"y":5300},{"x":100,"y":250}]}, "mark": {"type": "line", "color": "black", "strokeWidth": 1}, "encoding": {"x": {"field": "x", "type": "quantitative", "title": "p-ERK (%inhibition)"}, "y": {"field": "y", "type": "quantitative", "title": "IC50(nM)"}}},
                  {"data": {"values": [{}]}, "mark": {"type": "text", "text": "N=43", "fontSize": 13, "fontWeight": "bold", "align": "left"}, "encoding": {"x": {"datum": 21}, "y": {"datum": 1200}}},
                  {"data": {"values": [{}]}, "mark": {"type": "text", "text": "P", "fontSize": 12, "fontStyle": "italic", "align": "right", "dx": -17}, "encoding": {"x": {"datum": 81}, "y": {"datum": 12270}}},
                  {"data": {"values": [{}]}, "mark": {"type": "text", "text": "<0.0001", "fontSize": 12, "align": "left", "dx": -17}, "encoding": {"x": {"datum": 81}, "y": {"datum": 12270}}},
                  {"data": {"values": [{}]}, "mark": {"type": "text", "text": "R²=0.4004", "fontSize": 12}, "encoding": {"x": {"datum": 81}, "y": {"datum": 10170}}}
                ]
              }
            ]
          }
        ]
      }
    ]
  },
  {
    "title": {"text": "C", "offset": 7, "dx": -25},
    "spacing": 40,
    "hconcat": [
      {
        "width": 146, "height": 98,
        "layer": [
          {"data": {"name": "c1"}, "mark": {"type": "circle", "size": 6, "color": "black", "opacity": 1}, "encoding": {"x": {"field": "x", "type": "quantitative", "title": "p-PLCγ2 (%inhibition)", "scale": {"domain": [20,100]}, "axis": {"values": [20,40,60,80,100], "tickCount": 10, "labelFontSize": 13, "titleFontSize": 13, "titlePadding": 6}}, "y": {"field": "y", "type": "quantitative", "title": "p-AKT (%inhibition)", "scale": {"domain": [20,100]}, "axis": {"values": [20,40,60,80,100], "tickCount": 10, "labelFontSize": 13, "titleFontSize": 13, "titlePadding": 6}}}},
          {"data": {"values": [{"x":30.8,"y":42.2},{"x":95.2,"y":93.2}]}, "mark": {"type": "line", "color": "black", "strokeWidth": 1}, "encoding": {"x": {"field": "x", "type": "quantitative", "title": "p-PLCγ2 (%inhibition)"}, "y": {"field": "y", "type": "quantitative", "title": "p-AKT (%inhibition)"}}},
          {"data": {"values": [{}]}, "mark": {"type": "text", "text": "P", "fontSize": 12, "fontStyle": "italic", "align": "right", "dx": -17}, "encoding": {"x": {"datum": 61}, "y": {"datum": 131}}},
          {"data": {"values": [{}]}, "mark": {"type": "text", "text": "<0.0001", "fontSize": 12, "align": "left", "dx": -17}, "encoding": {"x": {"datum": 61}, "y": {"datum": 131}}},
          {"data": {"values": [{}]}, "mark": {"type": "text", "text": "R²=0.3562", "fontSize": 12}, "encoding": {"x": {"datum": 61}, "y": {"datum": 114}}},
          {"data": {"values": [{}]}, "mark": {"type": "text", "text": "N=43", "fontSize": 12, "fontWeight": "bold"}, "encoding": {"x": {"datum": 61}, "y": {"datum": -25}}}
        ]
      },
      {
        "width": 146, "height": 98,
        "layer": [
          {"data": {"name": "c2"}, "mark": {"type": "circle", "size": 6, "color": "black", "opacity": 1}, "encoding": {"x": {"field": "x", "type": "quantitative", "title": "p-PLCγ2 (%inhibition)", "scale": {"domain": [20,100]}, "axis": {"values": [20,40,60,80,100], "tickCount": 10, "labelFontSize": 13, "titleFontSize": 13, "titlePadding": 6}}, "y": {"field": "y", "type": "quantitative", "title": "p-ERK (%inhibition)", "scale": {"domain": [20,100]}, "axis": {"values": [20,40,60,80,100], "tickCount": 10, "labelFontSize": 13, "titleFontSize": 13, "titlePadding": 13}}}},
          {"data": {"values": [{"x":31.3,"y":37.0},{"x":96.4,"y":89.9}]}, "mark": {"type": "line", "color": "black", "strokeWidth": 1}, "encoding": {"x": {"field": "x", "type": "quantitative", "title": "p-PLCγ2 (%inhibition)"}, "y": {"field": "y", "type": "quantitative", "title": "p-ERK (%inhibition)"}}},
          {"data": {"values": [{}]}, "mark": {"type": "text", "text": "P", "fontSize": 12, "fontStyle": "italic", "align": "right", "dx": -17}, "encoding": {"x": {"datum": 61}, "y": {"datum": 131}}},
          {"data": {"values": [{}]}, "mark": {"type": "text", "text": "<0.0001", "fontSize": 12, "align": "left", "dx": -17}, "encoding": {"x": {"datum": 61}, "y": {"datum": 131}}},
          {"data": {"values": [{}]}, "mark": {"type": "text", "text": "R²=0.3867", "fontSize": 12}, "encoding": {"x": {"datum": 61}, "y": {"datum": 114}}},
          {"data": {"values": [{}]}, "mark": {"type": "text", "text": "N=43", "fontSize": 12, "fontWeight": "bold"}, "encoding": {"x": {"datum": 61}, "y": {"datum": -25}}}
        ]
      },
      {
        "width": 146, "height": 98,
        "layer": [
          {"data": {"name": "c3"}, "mark": {"type": "circle", "size": 6, "color": "black", "opacity": 1}, "encoding": {"x": {"field": "x", "type": "quantitative", "title": "p-AKT (%inhibition)", "scale": {"domain": [20,100]}, "axis": {"values": [20,40,60,80,100], "tickCount": 10, "labelFontSize": 13, "titleFontSize": 13, "titlePadding": 6}}, "y": {"field": "y", "type": "quantitative", "title": "p-ERK (%inhibition)", "scale": {"domain": [20,100]}, "axis": {"values": [20,40,60,80,100], "tickCount": 10, "labelFontSize": 13, "titleFontSize": 13, "titlePadding": 6}}}},
          {"data": {"values": [{"x":23.7,"y":40.3},{"x":98.1,"y":84.4}]}, "mark": {"type": "line", "color": "black", "strokeWidth": 1}, "encoding": {"x": {"field": "x", "type": "quantitative", "title": "p-AKT (%inhibition)"}, "y": {"field": "y", "type": "quantitative", "title": "p-ERK (%inhibition)"}}},
          {"data": {"values": [{}]}, "mark": {"type": "text", "text": "P", "fontSize": 12, "fontStyle": "italic", "align": "right", "dx": -17}, "encoding": {"x": {"datum": 61}, "y": {"datum": 131}}},
          {"data": {"values": [{}]}, "mark": {"type": "text", "text": "<0.0001", "fontSize": 12, "align": "left", "dx": -17}, "encoding": {"x": {"datum": 61}, "y": {"datum": 131}}},
          {"data": {"values": [{}]}, "mark": {"type": "text", "text": "R²=0.3772", "fontSize": 12}, "encoding": {"x": {"datum": 61}, "y": {"datum": 114}}},
          {"data": {"values": [{}]}, "mark": {"type": "text", "text": "N=43", "fontSize": 12, "fontWeight": "bold"}, "encoding": {"x": {"datum": 61}, "y": {"datum": -25}}}
        ]
      }
    ]
  }
]
}
